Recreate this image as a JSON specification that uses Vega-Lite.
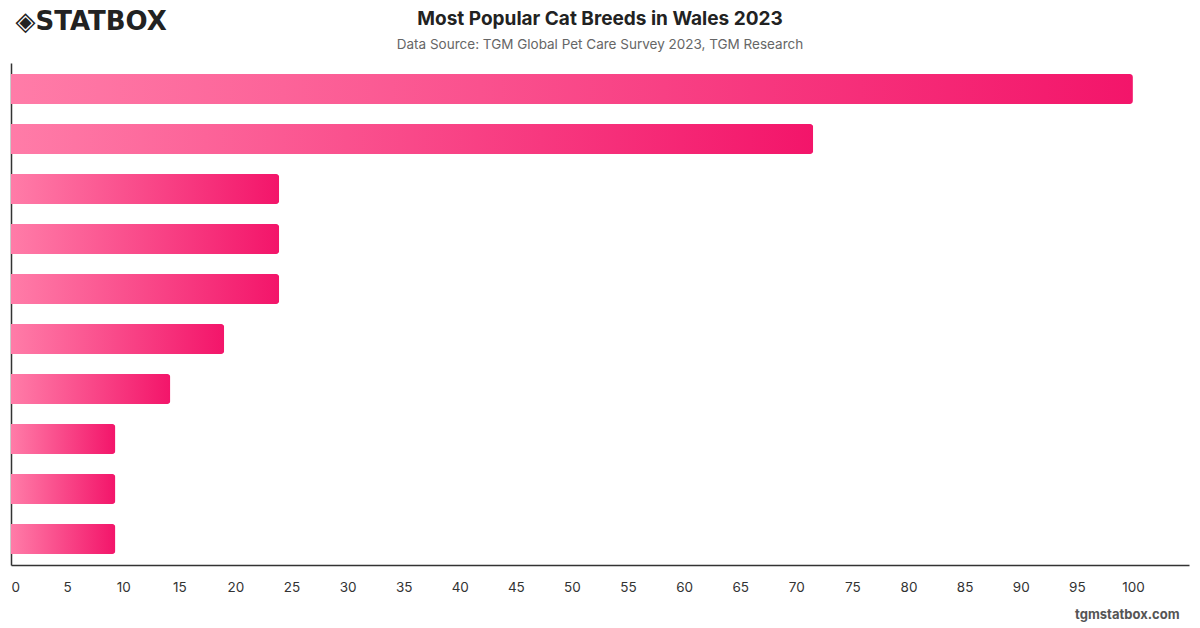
{
  "$schema": "https://vega.github.io/schema/vega-lite/v6.json",
  "width": 1178,
  "height": 502,
  "autosize": {"type": "none"},
  "padding": {"left": 11, "top": 63, "right": 11, "bottom": 63},
  "background": "white",
  "config": {"view": {"stroke": null}, "font": "Inter"},
  "title": {
    "text": "Most Popular Cat Breeds in Wales 2023",
    "subtitle": "Data Source: TGM Global Pet Care Survey 2023, TGM Research",
    "anchor": "middle",
    "fontSize": 19,
    "fontWeight": "bold",
    "color": "#222222",
    "subtitleFontSize": 13.5,
    "subtitleColor": "#666666",
    "subtitlePadding": 9,
    "offset": -43
  },
  "data": {
    "values": [
      {"breed": "Mixed breed", "share": 100},
      {"breed": "Domestic Shorthair", "share": 71.5},
      {"breed": "British Shorthair", "share": 23.9},
      {"breed": "Persian", "share": 23.9},
      {"breed": "Siamese", "share": 23.9},
      {"breed": "Maine Coon", "share": 19.0},
      {"breed": "Ragdoll", "share": 14.2},
      {"breed": "Bengal", "share": 9.3},
      {"breed": "Sphynx", "share": 9.3},
      {"breed": "Scottish Fold", "share": 9.3}
    ]
  },
  "mark": {
    "type": "bar",
    "cornerRadiusEnd": 3,
    "color": {
      "gradient": "linear",
      "x1": 0, "y1": 0, "x2": 1, "y2": 0,
      "stops": [
        {"offset": 0, "color": "#ff7ca8"},
        {"offset": 1, "color": "#f3156a"}
      ]
    }
  },
  "encoding": {
    "y": {
      "field": "breed",
      "type": "nominal",
      "sort": null,
      "scale": {"paddingInner": 0.4, "paddingOuter": 0.22},
      "axis": {
        "labels": false,
        "ticks": false,
        "domainColor": "#333333",
        "domainWidth": 1.5,
        "title": "◈STATBOX",
        "titleAngle": 0,
        "titleAlign": "left",
        "titleBaseline": "middle",
        "titleX": 4,
        "titleY": -42,
        "titleFontSize": 26,
        "titleFontWeight": 900,
        "titleColor": "#222222",
        "titleFont": "DejaVu Sans"
      }
    },
    "x": {
      "field": "share",
      "type": "quantitative",
      "scale": {"domain": [0, 105], "nice": false},
      "axis": {
        "values": [0, 5, 10, 15, 20, 25, 30, 35, 40, 45, 50, 55, 60, 65, 70, 75, 80, 85, 90, 95, 100],
        "grid": false,
        "ticks": false,
        "domainColor": "#333333",
        "domainWidth": 1.5,
        "labelFontSize": 13.5,
        "labelColor": "#333333",
        "labelPadding": 15,
        "labelFlush": true,
        "title": "tgmstatbox.com",
        "titleAnchor": "end",
        "titleAlign": "right",
        "titleBaseline": "middle",
        "titleX": 1168,
        "titleY": 49,
        "titleFontSize": 13,
        "titleFontWeight": "bold",
        "titleColor": "#555555"
      }
    }
  }
}
